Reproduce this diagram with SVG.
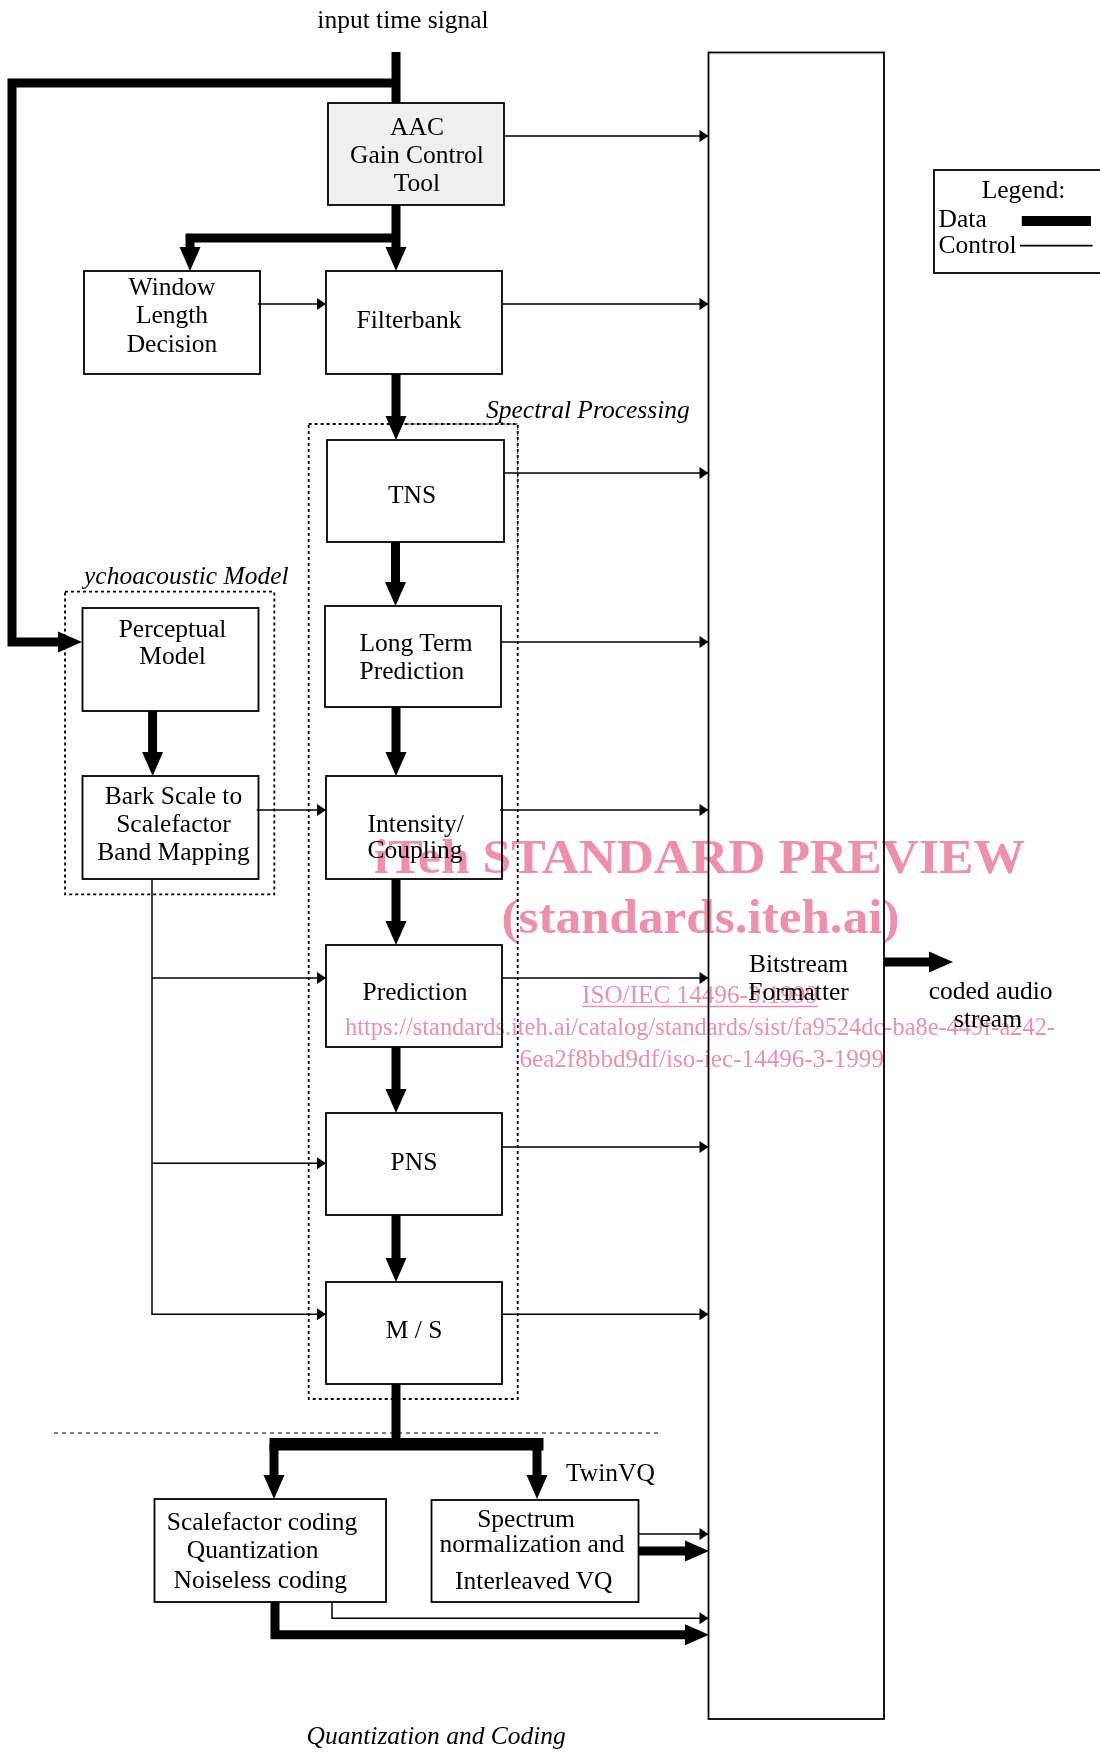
<svg xmlns="http://www.w3.org/2000/svg" width="1100" height="1754" viewBox="0 0 1100 1754">
<style>
text{font-family:"Liberation Serif","Times New Roman",serif;font-size:25.5px;fill:#000}
.c{text-anchor:middle}
.it{font-style:italic}
.box{fill:none;stroke:#000;stroke-width:1.8}
.data{fill:none;stroke:#000;stroke-width:9;stroke-linejoin:miter}
.ctl{fill:none;stroke:#000;stroke-width:1.5}
.dot{fill:none;stroke:#000;stroke-width:1.8;stroke-dasharray:3,3}
.thin{fill:none;stroke:#000;stroke-width:1;stroke-dasharray:1.5,1.5}
.wm{font-weight:bold;font-size:48px;fill:#ee8fab;mix-blend-mode:multiply}
.wm2{font-size:26px;fill:#ee8fab;mix-blend-mode:multiply}
</style>
<defs>
<marker id="ad" markerUnits="userSpaceOnUse" markerWidth="24" markerHeight="21" refX="4" refY="10.5" orient="auto" overflow="visible"><path d="M0,0 L24,10.5 L0,21 z" fill="#000"/></marker>
<marker id="ac" markerUnits="userSpaceOnUse" markerWidth="9" markerHeight="12" refX="9" refY="6" orient="auto" overflow="visible"><path d="M0,0 L9,6 L0,12 z" fill="#000"/></marker>
</defs>
<rect x="0" y="0" width="1100" height="1754" fill="#fff"/>

<text class="c" x="403" y="28">input time signal</text>

<g id="groups">
<rect class="dot" x="308.7" y="424" width="209" height="975"/>
<path class="thin" d="M396,424 H517.7 V592" stroke="#fff"/>
<text class="it" x="486" y="418">Spectral Processing</text>
<rect class="dot" x="65" y="591.7" width="209.3" height="302.6"/>
<text class="it" x="84" y="584">ychoacoustic Model</text>
<path d="M54,1433 H658" fill="none" stroke="#000" stroke-width="1.2" stroke-dasharray="4,4"/>
<text class="it" x="306.6" y="1744">Quantization and Coding</text>
</g>

<g id="connectors">
<path class="data" d="M396,52 V103"/>
<path class="data" d="M396,83 H12 V642 H62" marker-end="url(#ad)"/>
<path class="data" d="M396,205 V251" marker-end="url(#ad)"/>
<path class="data" d="M396,238 H190 V251" marker-end="url(#ad)"/>
<path class="data" d="M396,374 V420" marker-end="url(#ad)"/>
<path class="data" d="M395.5,542 V586" marker-end="url(#ad)"/>
<path class="data" d="M396,707 V756" marker-end="url(#ad)"/>
<path class="data" d="M396,879 V925" marker-end="url(#ad)"/>
<path class="data" d="M396,1047 V1093" marker-end="url(#ad)"/>
<path class="data" d="M396,1215 V1262" marker-end="url(#ad)"/>
<path class="data" d="M152.6,711 V756" marker-end="url(#ad)"/>
<path class="data" d="M396,1384 V1444"/>
<rect x="269.5" y="1438" width="274" height="12.5" fill="#000"/>
<path class="data" d="M274,1444 V1479" marker-end="url(#ad)"/>
<path class="data" d="M537,1444 V1479" marker-end="url(#ad)"/>
<path class="data" stroke-width="8" d="M638.5,1551 H689" marker-end="url(#ad)"/>
<path class="data" d="M275,1602 V1634.7 H689" marker-end="url(#ad)"/>
<path class="data" stroke-width="10" d="M884,962 H933" marker-end="url(#ad)"/>

<path class="ctl" d="M503,136 H708.5" marker-end="url(#ac)"/>
<path class="ctl" d="M258,304 H326" marker-end="url(#ac)"/>
<path class="ctl" d="M501.6,304 H708.5" marker-end="url(#ac)"/>
<path class="ctl" d="M503,473 H708.5" marker-end="url(#ac)"/>
<path class="ctl" d="M501,642 H708.5" marker-end="url(#ac)"/>
<path class="ctl" d="M500,810 H708.5" marker-end="url(#ac)"/>
<path class="ctl" d="M256.7,810 H326" marker-end="url(#ac)"/>
<path class="ctl" d="M501,978 H708.5" marker-end="url(#ac)"/>
<path class="ctl" d="M152,879 V1314.3 H326" marker-end="url(#ac)"/>
<path class="ctl" d="M152,978 H326" marker-end="url(#ac)"/>
<path class="ctl" d="M152,1163.3 H326" marker-end="url(#ac)"/>
<path class="ctl" d="M501,1147 H708.5" marker-end="url(#ac)"/>
<path class="ctl" d="M501,1314.3 H708.5" marker-end="url(#ac)"/>
<path class="ctl" d="M638.5,1534 H708.5" marker-end="url(#ac)"/>
<path class="ctl" d="M332,1602 V1618.3 H708.5" marker-end="url(#ac)"/>
</g>

<g id="aac">
<rect class="box" x="328" y="103" width="176" height="102" fill="#f0f0f0" style="fill:#f0f0f0"/>
<text class="c" x="417" y="135">AAC</text>
<text class="c" x="417" y="163">Gain Control</text>
<text class="c" x="417" y="191">Tool</text>
</g>
<g id="window">
<rect class="box" x="84" y="271" width="176" height="103"/>
<text class="c" x="172" y="295">Window</text>
<text class="c" x="172" y="323">Length</text>
<text class="c" x="172" y="352">Decision</text>
</g>
<g id="filterbank">
<rect class="box" x="326" y="271" width="176" height="103"/>
<text class="c" x="409" y="328">Filterbank</text>
</g>
<g id="tns">
<rect class="box" x="327" y="440" width="177" height="102"/>
<text class="c" x="412" y="503">TNS</text>
</g>
<g id="ltp">
<rect class="box" x="325" y="606" width="176" height="101"/>
<text x="359.5" y="650.7">Long Term</text>
<text x="359.5" y="679">Prediction</text>
</g>
<g id="intensity">
<rect class="box" x="326" y="776" width="176" height="103"/>
<text x="367.6" y="831.7">Intensity/</text>
<text x="367.6" y="858">Coupling</text>
</g>
<g id="prediction">
<rect class="box" x="326" y="945" width="176" height="102"/>
<text class="c" x="415" y="1000">Prediction</text>
</g>
<g id="pns">
<rect class="box" x="326" y="1113" width="176" height="102"/>
<text class="c" x="414" y="1170">PNS</text>
</g>
<g id="ms">
<rect class="box" x="326" y="1282" width="176" height="102"/>
<text class="c" x="414" y="1337.7">M / S</text>
</g>
<g id="perceptual">
<rect class="box" x="82.5" y="608" width="176" height="103"/>
<text class="c" x="172.5" y="636.7">Perceptual</text>
<text class="c" x="172.5" y="664.3">Model</text>
</g>
<g id="bark">
<rect class="box" x="82.5" y="776" width="176" height="103"/>
<text class="c" x="173.5" y="804.3">Bark Scale to</text>
<text class="c" x="173.5" y="832.3">Scalefactor</text>
<text class="c" x="173.5" y="860">Band Mapping</text>
</g>
<g id="scalefactor">
<rect class="box" x="154.5" y="1499" width="231.5" height="103"/>
<text class="c" x="262" y="1530">Scalefactor coding</text>
<text class="c" x="252.7" y="1558.3">Quantization</text>
<text class="c" x="260.3" y="1587.7">Noiseless coding</text>
</g>
<g id="twinvq">
<rect class="box" x="431.5" y="1500" width="207" height="102"/>
<text class="c" x="526" y="1526.7">Spectrum</text>
<text class="c" x="532" y="1552.3">normalization and</text>
<text class="c" x="533.8" y="1589.3">Interleaved VQ</text>
<text x="566" y="1481">TwinVQ</text>
</g>
<g id="formatter">
<rect class="box" x="708.5" y="52.5" width="175.5" height="1666.5"/>
<text class="c" x="798.5" y="971.7">Bitstream</text>
<text class="c" x="798.5" y="1000">Formatter</text>
</g>
<g id="output">
<text class="c" x="990.6" y="999.3">coded audio</text>
<text class="c" x="988" y="1026.7">stream</text>
</g>
<g id="legend">
<rect class="box" x="934" y="170" width="190" height="103"/>
<text class="c" x="1023.5" y="198">Legend:</text>
<text x="938.6" y="227">Data</text>
<rect x="1021.8" y="216" width="69.2" height="10" fill="#000"/>
<text x="938.6" y="253">Control</text>
<path d="M1020,245.7 H1092.6" stroke="#000" stroke-width="1.8"/>
</g>

<g id="watermark">
<text class="wm" x="374" y="873" textLength="651" lengthAdjust="spacingAndGlyphs">iTeh STANDARD PREVIEW</text>
<text class="wm" x="501.5" y="933" textLength="398" lengthAdjust="spacingAndGlyphs">(standards.iteh.ai)</text>
<text class="wm2" x="582" y="1003" textLength="236" lengthAdjust="spacingAndGlyphs">ISO/IEC 14496-3:1999</text>
<path d="M582,1006.5 H818" stroke="#ee8fab" stroke-width="1.3" style="mix-blend-mode:multiply"/>
<text class="wm2" x="345" y="1035" textLength="710" lengthAdjust="spacingAndGlyphs">https://standards.iteh.ai/catalog/standards/sist/fa9524dc-ba8e-449f-a242-</text>
<text class="wm2" x="519.4" y="1066.7" textLength="364.6" lengthAdjust="spacingAndGlyphs">6ea2f8bbd9df/iso-iec-14496-3-1999</text>
</g>
</svg>
